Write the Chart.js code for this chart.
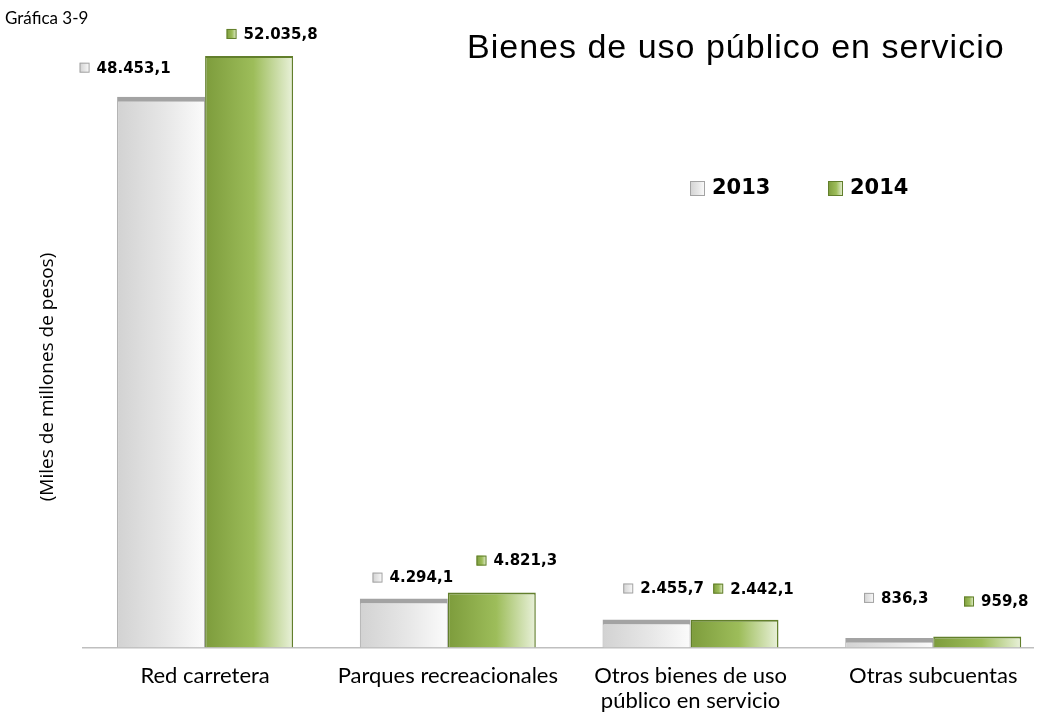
<!DOCTYPE html>
<html>
<head>
<meta charset="utf-8">
<script src="https://cdn.jsdelivr.net/npm/chart.js@4/dist/chart.umd.min.js"></script>
<style>
  html, body { margin: 0; padding: 0; background: #ffffff; }
  #wrap { width: 1042px; height: 714px; }
</style>
</head>
<body>
<div id="wrap"><canvas id="myChart" width="1042" height="714"></canvas></div>
<script>
// Chart data
const categorias = [
  "Red carretera",
  "Parques recreacionales",
  ["Otros bienes de uso", "público en servicio"],
  "Otras subcuentas",
];
const anios = ["2013", "2014"];
const valores2013 = [48453.1, 4294.1, 2455.7, 836.3];
const valores2014 = [52035.8, 4821.3, 2442.1, 959.8];

// Manual label nudges (like the hand-moved labels in the original)
const nudgeX = [[-36, 9, 17, 7], [23, 25, 19, 19]];
const nudgeY = [[-29, -21, -31, -40], [-22, -32, -31, -35]];

const catPct = 0.725;
const ctx = document.getElementById("myChart");

// Spanish number format: 48.453,1
function formatoNumero(v) {
  const partes = v.toFixed(1).split(".");
  const entero = partes[0].replace(/\B(?=(\d{3})+(?!\d))/g, ".");
  return entero + "," + partes[1];
}

// Color stops for each series
const paletas = [
  { stops: ["#d2d2d2", "#e7e7e7", "#fbfbfb"], border: "#a3a3a3", solid: "#e4e4e4" },
  { stops: ["#7d9c3c", "#9dbd5a", "#e9f1da"], border: "#627f2c", solid: "#9bbb59" },
];

function gradiente(chartCtx, left, width, pal) {
  const g = chartCtx.createLinearGradient(left, 0, left + width, 0);
  g.addColorStop(0, pal.stops[0]);
  g.addColorStop(0.55, pal.stops[1]);
  g.addColorStop(1, pal.stops[2]);
  return g;
}

// Gradient across each bar, computed from the x scale
function barColor(c, ds) {
  const chart = c.chart;
  const xs = chart.scales.x;
  if (!xs || c.dataIndex === undefined) return paletas[ds].solid;
  const centro = xs.getPixelForValue(c.dataIndex);
  const w = (xs.getPixelForValue(1) - xs.getPixelForValue(0)) * catPct / 2;
  const left = ds === 0 ? centro - w : centro;
  if (!isFinite(left) || !isFinite(w) || w <= 0) return paletas[ds].solid;
  return gradiente(chart.ctx, left, w, paletas[ds]);
}

// Titles, legend, y title and value labels
const extrasPlugin = {
  id: "extras",
  afterDatasetsDraw(chart) {
    const c = chart.ctx;
    c.save();
    chart.data.datasets.forEach((ds, d) => {
      const meta = chart.getDatasetMeta(d);
      meta.data.forEach((bar, i) => {
        const txt = formatoNumero(ds.data[i].y);
        c.font = "bold 15px 'DejaVu Sans'";
        const tw = c.measureText(txt).width;
        const total = 10 + 7 + tw;
        const cx = bar.x + nudgeX[d][i];
        const cy = bar.y + nudgeY[d][i];
        const x0 = cx - total / 2;
        c.fillStyle = gradiente(c, x0, 10, paletas[d]);
        c.fillRect(x0, cy - 5, 10, 10);
        c.strokeStyle = paletas[d].border;
        c.lineWidth = 1;
        c.strokeRect(x0 + 0.5, cy - 4.5, 9, 9);
        c.fillStyle = "#000000";
        c.textBaseline = "middle";
        c.textAlign = "left";
        c.fillText(txt, x0 + 17, cy + 1);
      });
    });
    c.restore();
  },
  afterDraw(chart) {
    const c = chart.ctx;
    c.save();
    c.fillStyle = "#000000";
    c.textBaseline = "alphabetic";
    c.textAlign = "left";
    c.font = "17px Lato";
    c.fillText("Gráfica 3-9", 5, 24);
    c.font = "34px 'Liberation Sans'";
    c.letterSpacing = "1px";
    c.fillText("Bienes de uso público en servicio", 467, 58);
    c.letterSpacing = "0px";

    // legend
    const leyendaX = [690, 828];
    anios.forEach((a, k) => {
      const x = leyendaX[k];
      c.fillStyle = gradiente(c, x, 15, paletas[k]);
      c.fillRect(x, 181, 15, 15);
      c.strokeStyle = paletas[k].border;
      c.lineWidth = 1;
      c.strokeRect(x + 0.5, 181.5, 14, 14);
      c.fillStyle = "#000000";
      c.font = "bold 21px 'DejaVu Sans'";
      c.textBaseline = "middle";
      c.fillText(a, x + 22, 189);
    });

    // y axis title
    c.translate(48, 377);
    c.rotate(-Math.PI / 2);
    c.textAlign = "center";
    c.textBaseline = "middle";
    c.font = "19px 'Open Sans'";
    c.fillText("(Miles de millones de pesos)", 0, 0);
    c.restore();
  },
};

const data = {
  datasets: [
    {
      label: anios[0],
      data: valores2013.map((v, i) => ({ x: i, y: v })),
      backgroundColor: (c) => barColor(c, 0),
      borderColor: paletas[0].border,
      borderWidth: { top: 5, left: 1, right: 1, bottom: 0 },
      borderSkipped: "bottom",
    },
    {
      label: anios[1],
      data: valores2014.map((v, i) => ({ x: i, y: v })),
      backgroundColor: (c) => barColor(c, 1),
      borderColor: paletas[1].border,
      borderWidth: { top: 2, left: 1.5, right: 1.5, bottom: 0 },
      borderSkipped: "bottom",
    },
  ],
};

const config = {
  type: "bar",
  data: data,
  plugins: [extrasPlugin],
  options: {
    responsive: false,
    animation: false,
    layout: { padding: { left: 83, right: 9, top: 20, bottom: -8 } },
    datasets: {
      bar: { categoryPercentage: catPct, barPercentage: 1 },
    },
    plugins: {
      legend: { display: false },
      title: { display: false },
      tooltip: { enabled: false },
    },
    scales: {
      x: {
        type: "linear",
        offset: false,
        min: -0.503,
        max: 3.411,
        grid: { display: false },
        border: { display: true, color: "#bfbfbf", width: 1.5 },
        afterBuildTicks: (scale) => {
          scale.ticks = categorias.map((c, i) => ({ value: i }));
        },
        ticks: {
          autoSkip: false,
          maxRotation: 0,
          padding: 8,
          color: "#000000",
          font: { family: "Lato", size: 22, lineHeight: 1.15 },
          callback: (value) => categorias[value],
        },
      },
      y: {
        display: false,
        min: 0,
        max: 55200,
      },
    },
  },
};

const myChart = new Chart(ctx, config);
</script>
</body>
</html>
